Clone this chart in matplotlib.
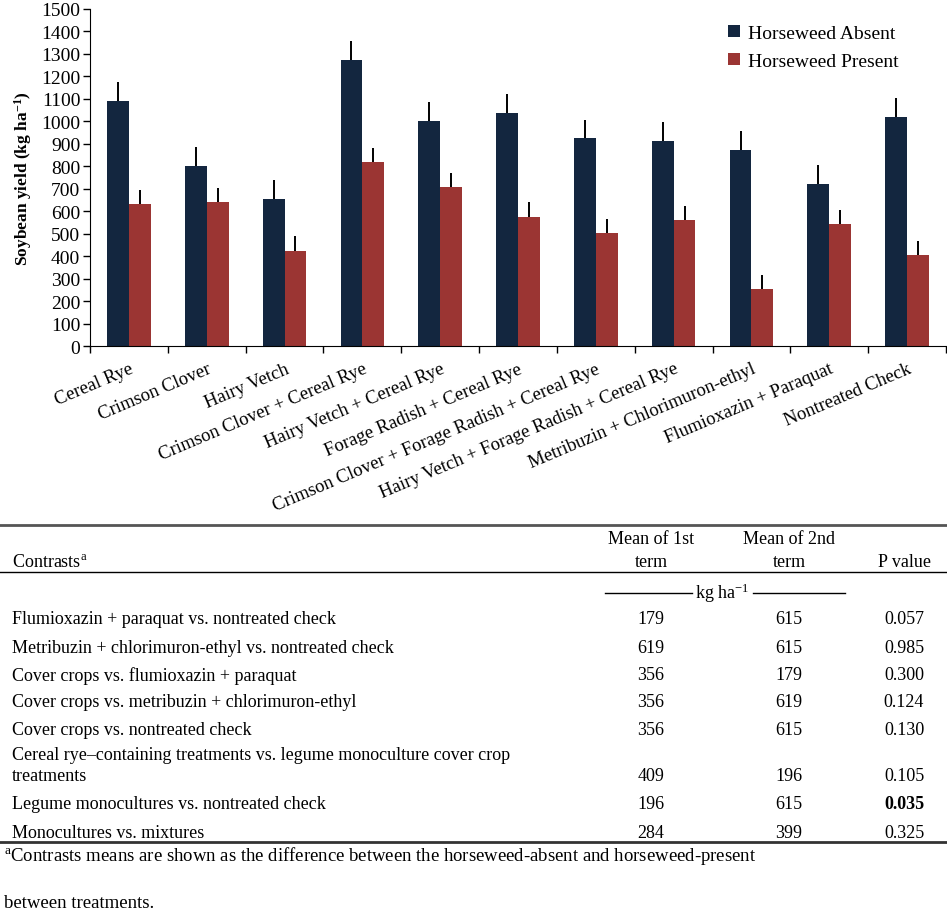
import matplotlib
matplotlib.use("Agg")
import matplotlib.pyplot as plt
from matplotlib.lines import Line2D
import numpy as np

# chart data
treatments = [
    "Cereal Rye", "Crimson Clover", "Hairy Vetch", "Crimson Clover + Cereal Rye",
    "Hairy Vetch + Cereal Rye", "Forage Radish + Cereal Rye",
    "Crimson Clover + Forage Radish + Cereal Rye", "Hairy Vetch + Forage Radish + Cereal Rye",
    "Metribuzin + Chlorimuron-ethyl", "Flumioxazin + Paraquat", "Nontreated Check",
]
absent = [1092, 803, 653, 1274, 1003, 1039, 925, 914, 873, 720, 1020]
absent_err = [82, 84, 86, 85, 85, 83, 83, 83, 83, 84, 83]
present = [631, 643, 425, 818, 707, 576, 501, 562, 253, 542, 405]
present_err = [64, 62, 64, 64, 64, 63, 64, 62, 63, 64, 62]
yticks = list(range(0, 1600, 100))

# contrast table data
contrasts = [
    "Flumioxazin + paraquat vs. nontreated check",
    "Metribuzin + chlorimuron-ethyl vs. nontreated check",
    "Cover crops vs. flumioxazin + paraquat",
    "Cover crops vs. metribuzin + chlorimuron-ethyl",
    "Cover crops vs. nontreated check",
    "Cereal rye\u2013containing treatments vs. legume monoculture cover crop\ntreatments",
    "Legume monocultures vs. nontreated check",
    "Monocultures vs. mixtures",
]
mean_first = ["179", "619", "356", "356", "356", "409", "196", "284"]
mean_second = ["615", "615", "179", "619", "615", "196", "615", "399"]
p_values = ["0.057", "0.985", "0.300", "0.124", "0.130", "0.105", "0.035", "0.325"]
significant = [False, False, False, False, False, False, True, False]

plt.rcParams['font.family'] = ['Liberation Serif', 'DejaVu Serif']
plt.rcParams['mathtext.fontset'] = 'custom'
plt.rcParams['mathtext.rm'] = 'Liberation Serif'
plt.rcParams['mathtext.it'] = 'Liberation Serif:italic'
plt.rcParams['mathtext.bf'] = 'Liberation Serif:bold'

W, H = 947, 920
fig = plt.figure(figsize=(W / 100, H / 100), dpi=100)

def fx(px):
    return px / W

def fy(py):
    return 1 - py / H

ax = fig.add_axes([fx(90), fy(347), fx(856), 337 / H])

x = np.arange(len(treatments))
bw = 0.28
navy = '#13263f'
red = '#9b3533'
ax.bar(x - bw / 2, absent, bw, color=navy, label='Horseweed Absent',
       yerr=[np.zeros(len(x)), absent_err], error_kw=dict(ecolor='black', elinewidth=1.4, capsize=0))
ax.bar(x + bw / 2, present, bw, color=red, label='Horseweed Present',
       yerr=[np.zeros(len(x)), present_err], error_kw=dict(ecolor='black', elinewidth=1.4, capsize=0))

ax.set_xlim(-0.5, len(x) - 0.5)
ax.set_ylim(0, 1500)
ax.set_yticks(yticks)
ax.tick_params(axis='y', labelsize=14, direction='out', length=5, width=1, pad=2)
ax.set_xticks(x)
ax.set_xticklabels(treatments, rotation=23, ha='right', va='top',
                   rotation_mode='anchor', fontsize=13.5)
ax.tick_params(axis='x', length=0, pad=10)
ax.set_xticks(np.arange(-0.5, len(x)), minor=True)
ax.tick_params(axis='x', which='minor', length=5, width=1, direction='out')
ax.spines['top'].set_visible(False)
ax.spines['right'].set_visible(False)
ax.set_ylabel(r'Soybean yield (kg ha$^{\mathbf{-1}}$)', fontsize=12.5,
              fontweight='bold', labelpad=5)

ax.legend(loc='upper left', bbox_to_anchor=(fx(710), fy(8)), bbox_transform=fig.transFigure,
          frameon=False, fontsize=14, handlelength=0.65, handleheight=0.65,
          handletextpad=0.4, labelspacing=0.55)

# ---- table below the chart ----
fs = 13
fig.add_artist(Line2D([0, 1], [fy(526), fy(526)], color='#555555', lw=2))
fig.add_artist(Line2D([0, 1], [fy(573), fy(573)], color='black', lw=1))
fig.add_artist(Line2D([0, 1], [fy(843), fy(843)], color='#333333', lw=2))

col1, col2, col3 = 651, 789, 904
fig.text(fx(12), fy(563), r'Contrasts$^{\mathrm{a}}$', fontsize=fs, va='center')
fig.text(fx(col1), fy(540), 'Mean of 1st', fontsize=fs, ha='center', va='center')
fig.text(fx(col1), fy(563), 'term', fontsize=fs, ha='center', va='center')
fig.text(fx(col2), fy(540), 'Mean of 2nd', fontsize=fs, ha='center', va='center')
fig.text(fx(col2), fy(563), 'term', fontsize=fs, ha='center', va='center')
fig.text(fx(col3), fy(563), 'P value', fontsize=fs, ha='center', va='center')

fig.text(fx(722), fy(593), r'kg ha$^{-1}$', fontsize=fs, ha='center', va='center')
fig.add_artist(Line2D([fx(605), fx(692)], [fy(594), fy(594)], color='black', lw=1))
fig.add_artist(Line2D([fx(753), fx(845)], [fy(594), fy(594)], color='black', lw=1))

row_y = [620, 649, 676, 703, 731, 777, 805, 833]
for i, name in enumerate(contrasts):
    y = row_y[i]
    if '\n' in name:
        first, second = name.split('\n')
        fig.text(fx(12), fy(756), first, fontsize=fs, va='center')
        fig.text(fx(12), fy(y), second, fontsize=fs, va='center')
    else:
        fig.text(fx(12), fy(y), name, fontsize=fs, va='center')
    fig.text(fx(col1), fy(y), mean_first[i], fontsize=fs, ha='center', va='center')
    fig.text(fx(col2), fy(y), mean_second[i], fontsize=fs, ha='center', va='center')
    fig.text(fx(col3), fy(y), p_values[i], fontsize=fs, ha='center', va='center',
             fontweight='bold' if significant[i] else 'normal')

fig.text(fx(4), fy(856), r'${}^{\mathrm{a}}$Contrasts means are shown as the difference between '
         'the horseweed-absent and horseweed-present', fontsize=13.5, va='center')
fig.text(fx(4), fy(904), 'between treatments.', fontsize=13.5, va='center')

fig.savefig('out.png', dpi=100)
